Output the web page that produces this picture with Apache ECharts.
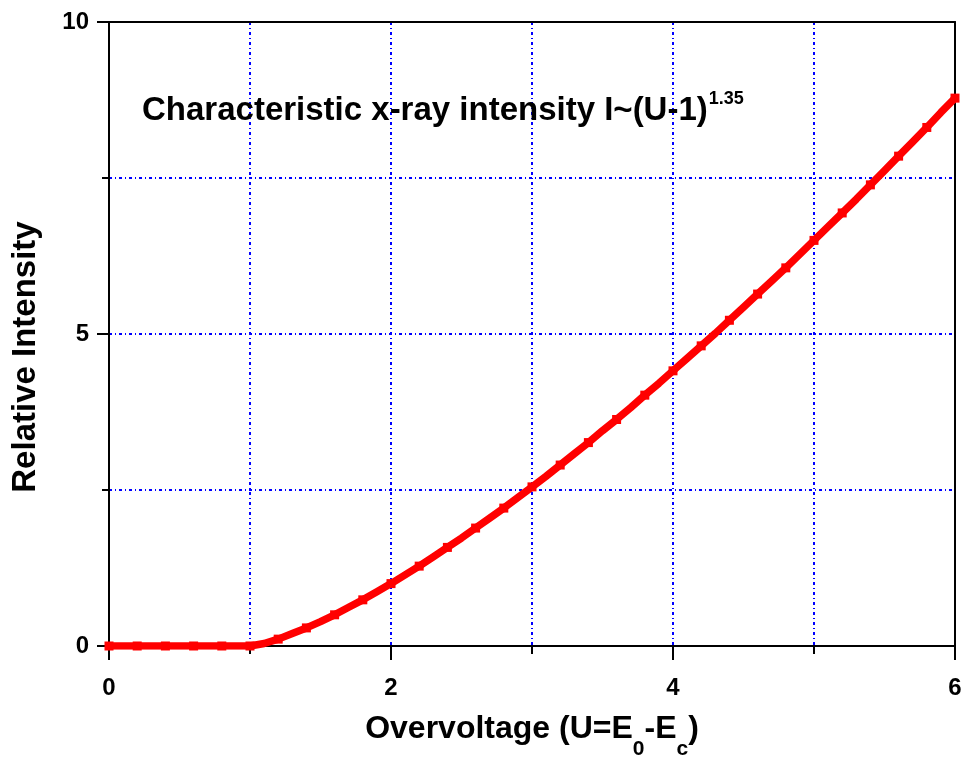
<!DOCTYPE html>
<html>
<head>
<meta charset="utf-8">
<script src="https://cdn.jsdelivr.net/npm/echarts@6/dist/echarts.min.js"></script>
<style>
  html, body { margin: 0; padding: 0; background: #fff; }
  #chart { width: 970px; height: 758px; }
</style>
</head>
<body>
<div id="chart"></div>
<script>
// Overvoltage U (x) and relative characteristic x-ray intensity (y)
const overvoltage = [
  0.0, 0.1, 0.2, 0.3, 0.4, 0.5, 0.6, 0.7, 0.8, 0.9,
  1.0, 1.1, 1.2, 1.3, 1.4, 1.5, 1.6, 1.7, 1.8, 1.9,
  2.0, 2.1, 2.2, 2.3, 2.4, 2.5, 2.6, 2.7, 2.8, 2.9,
  3.0, 3.1, 3.2, 3.3, 3.4, 3.5, 3.6, 3.7, 3.8, 3.9,
  4.0, 4.1, 4.2, 4.3, 4.4, 4.5, 4.6, 4.7, 4.8, 4.9,
  5.0, 5.1, 5.2, 5.3, 5.4, 5.5, 5.6, 5.7, 5.8, 5.9,
  6.0
];
const intensity = [
  0, 0, 0, 0, 0, 0, 0, 0, 0, 0,
  0, 0.04, 0.11, 0.20, 0.29, 0.39, 0.50, 0.62, 0.74, 0.87,
  1.00, 1.14, 1.28, 1.43, 1.58, 1.73, 1.89, 2.05, 2.21, 2.38,
  2.55, 2.72, 2.90, 3.08, 3.26, 3.45, 3.63, 3.82, 4.02, 4.21,
  4.41, 4.61, 4.81, 5.01, 5.22, 5.43, 5.64, 5.85, 6.06, 6.28,
  6.50, 6.72, 6.94, 7.16, 7.39, 7.62, 7.85, 8.08, 8.31, 8.55,
  8.78
];
const xTicks = { min: 0, max: 6, major: 2, minorSplit: 2 };
const yTicks = { min: 0, max: 10, major: 5, minorSplit: 2 };

const points = overvoltage.map((u, i) => [u, intensity[i]]);

const FONT = '"Liberation Sans", Arial, Helvetica, sans-serif';
const gridDash = { color: '#0000ff', width: 2, type: [3, 3, 1, 3] };
const axisBlack = { color: '#000', width: 2 };

const chart = echarts.init(document.getElementById('chart'), null, { renderer: 'canvas' });

chart.setOption({
  animation: false,
  backgroundColor: '#fff',
  grid: { left: 109, right: 15, top: 22, bottom: 112, containLabel: false },
  xAxis: [{
    type: 'value',
    min: xTicks.min, max: xTicks.max, interval: xTicks.major,
    axisLine: { show: true, onZero: false, lineStyle: axisBlack },
    axisTick: { show: true, length: 14, lineStyle: axisBlack },
    minorTick: { show: true, splitNumber: xTicks.minorSplit, length: 8, lineStyle: axisBlack },
    axisLabel: { margin: 30, color: '#000', fontFamily: FONT, fontWeight: 'bold', fontSize: 24 },
    splitLine: { show: true, showMinLine: false, showMaxLine: false, lineStyle: gridDash },
    minorSplitLine: { show: true, lineStyle: gridDash }
  }, {
    type: 'value', position: 'top',
    min: xTicks.min, max: xTicks.max,
    axisLine: { show: true, onZero: false, lineStyle: axisBlack },
    axisTick: { show: false }, axisLabel: { show: false }, splitLine: { show: false }
  }],
  yAxis: [{
    type: 'value',
    min: yTicks.min, max: yTicks.max, interval: yTicks.major,
    axisLine: { show: true, onZero: false, lineStyle: axisBlack },
    axisTick: { show: true, length: 12, lineStyle: axisBlack },
    minorTick: { show: true, splitNumber: yTicks.minorSplit, length: 7, lineStyle: axisBlack },
    axisLabel: { margin: 20, color: '#000', fontFamily: FONT, fontWeight: 'bold', fontSize: 24 },
    splitLine: { show: true, showMinLine: false, showMaxLine: false, lineStyle: gridDash },
    minorSplitLine: { show: true, lineStyle: gridDash }
  }, {
    type: 'value', position: 'right',
    min: yTicks.min, max: yTicks.max,
    axisLine: { show: true, onZero: false, lineStyle: axisBlack },
    axisTick: { show: false }, axisLabel: { show: false }, splitLine: { show: false }
  }],
  series: [{
    type: 'line',
    data: points,
    xAxisIndex: 0, yAxisIndex: 0,
    showSymbol: true,
    symbol: 'rect',
    symbolSize: (val, params) => (params.dataIndex % 2 === 0 ? 9 : 0),
    itemStyle: { color: '#ff0000' },
    lineStyle: { color: '#ff0000', width: 7.5 },
    z: 5
  }],
  graphic: [{
    type: 'text',
    x: 142, y: 90,
    z: 10,
    style: {
      text: '{m|Characteristic x-ray intensity I~(U-1)}{s|1.35}',
      rich: {
        m: { fontFamily: FONT, fontWeight: 'bold', fontSize: 33, fill: '#000', lineHeight: 38, verticalAlign: 'top', padding: [4, 0, 0, 0] },
        s: { fontFamily: FONT, fontWeight: 'bold', fontSize: 18, fill: '#000', lineHeight: 18, verticalAlign: 'top', padding: [0, 0, 0, 1] }
      }
    }
  }, {
    type: 'text',
    x: 532, y: 713,
    z: 10,
    style: {
      text: '{m|Overvoltage (U=E}{s|0}{m|-E}{s|c}{m|)}',
      rich: {
        m: { fontFamily: FONT, fontWeight: 'bold', fontSize: 32, fill: '#000', lineHeight: 36, verticalAlign: 'top' },
        s: { fontFamily: FONT, fontWeight: 'bold', fontSize: 21, fill: '#000', lineHeight: 21, verticalAlign: 'top', padding: [26, 0, 0, 0] }
      },
      align: 'center'
    }
  }, {
    type: 'text',
    x: 26, y: 357,
    rotation: Math.PI / 2,
    z: 10,
    style: {
      text: 'Relative Intensity',
      fontFamily: FONT, fontWeight: 'bold', fontSize: 33, fill: '#000',
      align: 'center', verticalAlign: 'middle'
    }
  }]
});
</script>
</body>
</html>
